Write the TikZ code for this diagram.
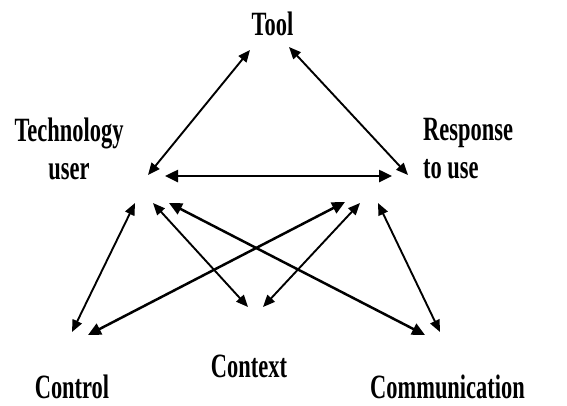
\documentclass[tikz,border=0pt]{standalone}
\usepackage{fontspec}
\setmainfont{Liberation Serif}[FakeStretch=0.66]
\usetikzlibrary{arrows.meta}
\begin{document}
\begin{tikzpicture}[x=1pt,y=-1pt,
  lbl/.style={inner sep=0pt,font=\fontsize{34}{38}\selectfont\bfseries},
  link/.style={line width=1.9pt,{Triangle[length=12pt,width=10pt]}-{Triangle[length=12pt,width=10pt]}},
  thick link/.style={line width=2.5pt,{Triangle[length=13pt,width=12pt]}-{Triangle[length=13pt,width=12pt]}}]
\useasboundingbox (0,0) rectangle (567,405);
\node[lbl,anchor=base] (tool) at (272.5,35) {Tool};
\node[lbl,align=center] (tu) at (69,149) {Technology\\user};
\node[lbl,align=left,anchor=west] (resp) at (423,149) {Response\\to use};
\node[lbl,anchor=base] (ctx) at (249,377) {Context};
\node[lbl,anchor=base] (ctl) at (72,398) {Control};
\node[lbl,anchor=base] (com) at (447.5,398) {Communication};
% arrow endpoints
\coordinate (toolL) at (250,50);
\coordinate (toolR) at (289,47);
\coordinate (tuT) at (148,175);
\coordinate (tuH) at (165,176);
\coordinate (respT) at (408,175);
\coordinate (respH) at (392,176);
\coordinate (tuA) at (135,203);
\coordinate (tuB) at (153,203);
\coordinate (tuC) at (169,203);
\coordinate (respA) at (345,202);
\coordinate (respB) at (360,203);
\coordinate (respC) at (378,203);
\coordinate (ctlA) at (72,332);
\coordinate (ctlB) at (88,335);
\coordinate (ctxA) at (248,307);
\coordinate (ctxB) at (263,307);
\coordinate (comA) at (425,335);
\coordinate (comB) at (440,332);
\draw[link] (toolL) -- (tuT);
\draw[link] (toolR) -- (respT);
\draw[thick link] (tuH) -- (respH);
\draw[link] (tuA) -- (ctlA);
\draw[link] (tuB) -- (ctxA);
\draw[thick link] (tuC) -- (comA);
\draw[thick link] (respA) -- (ctlB);
\draw[link] (respB) -- (ctxB);
\draw[link] (respC) -- (comB);
\end{tikzpicture}
\end{document}
